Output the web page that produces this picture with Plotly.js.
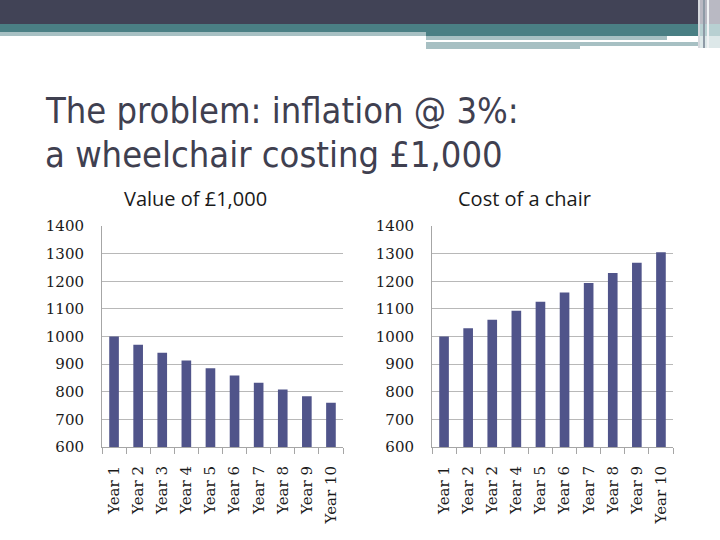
<!DOCTYPE html>
<html>
<head>
<meta charset="utf-8">
<script src="https://cdn.plot.ly/plotly-3.0.1.min.js"></script>
<style>html,body{margin:0;padding:0;background:#fff;}#chart{width:720px;height:540px;}</style>
</head>
<body>
<div id="chart"></div>
<script>
// ---- Data ----
const valueLabels = ["Year 1","Year 2","Year 3","Year 4","Year 5","Year 6","Year 7","Year 8","Year 9","Year 10"];
const valueOf1000 = [1000, 970, 941, 913, 885, 859, 833, 808, 784, 760];
const costLabels = ["Year 1","Year 2","Year 2","Year 4","Year 5","Year 6","Year 7","Year 8","Year 9","Year 10"];
const costOfChair = [1000, 1030, 1061, 1093, 1126, 1159, 1194, 1230, 1267, 1305];
const yTicks = [600, 700, 800, 900, 1000, 1100, 1200, 1300, 1400];

const barColor = "#50548a";
const idx = a => a.map((_, i) => i);

const traces = [
  {type: "bar", x: idx(valueOf1000), y: valueOf1000, xaxis: "x", yaxis: "y",
   marker: {color: barColor}, hoverinfo: "y", showlegend: false},
  {type: "bar", x: idx(costOfChair), y: costOfChair, xaxis: "x2", yaxis: "y2",
   marker: {color: barColor}, hoverinfo: "y", showlegend: false}
];

function xAxis(labels, domain, anchor) {
  return {
    domain: domain, anchor: anchor, range: [-0.5, labels.length - 0.5],
    tickmode: "array", tickvals: idx(labels), ticktext: labels, tickangle: -90,
    ticks: "", ticklabelstandoff: 12,
    minor: {ticks: "outside", tick0: -0.5, dtick: 1, ticklen: 6, tickcolor: "#a6a6a6", tickwidth: 1, showgrid: false},
    tickfont: {family: "DejaVu Serif", size: 15, color: "#1a1a1a"},
    showline: true, linecolor: "#a6a6a6", linewidth: 1, showgrid: false, zeroline: false, fixedrange: true
  };
}
function yAxis(domain, anchor) {
  return {
    domain: domain, anchor: anchor, range: [600, 1400],
    tickmode: "array", tickvals: yTicks, ticks: "", ticklabelstandoff: 14,
    tickfont: {family: "DejaVu Serif", size: 15, color: "#1a1a1a"},
    showgrid: true, gridcolor: "#b8b8b8", gridwidth: 1,
    showline: true, linecolor: "#a6a6a6", linewidth: 1, zeroline: false, fixedrange: true
  };
}

const W = 720, H = 540;
const px = v => v / W, py = v => 1 - v / H;
function rect(x0, y0, x1, y1, color) {
  return {type: "rect", xref: "paper", yref: "paper", x0: px(x0), x1: px(x1), y0: py(y1), y1: py(y0),
          fillcolor: color, line: {width: 0}, layer: "below"};
}

const titleFont = {family: "DejaVu Sans Condensed, DejaVu Sans, sans-serif", size: 36, color: "#3f4050"};
const yDom = [py(447), py(226)];
const layout = {
  width: W, height: H,
  margin: {l: 0, r: 0, t: 0, b: 0, pad: 0},
  paper_bgcolor: "#ffffff", plot_bgcolor: "rgba(0,0,0,0)",
  bargap: 0.6,
  xaxis: xAxis(valueLabels, [px(102), px(343)], "y"),
  yaxis: yAxis(yDom, "x"),
  xaxis2: xAxis(costLabels, [px(432), px(673)], "y2"),
  yaxis2: yAxis(yDom, "x2"),
  shapes: [
    rect(0, 0, 720, 24, "#414356"),
    rect(0, 24, 720, 32, "#4a7f84"),
    rect(426, 32, 698, 36, "#4a7f84"),
    rect(0, 32, 426, 36, "#a7c0c3"),
    rect(426, 36, 667, 40, "#a7c0c3"),
    rect(426, 42, 707, 46, "#a7c0c3"),
    rect(426, 46, 580, 49, "#a7c0c3"),
    rect(698, 0, 720, 24, "#b9b9c3"),
    rect(698, 24, 720, 36, "#b8d0d2"),
    rect(698, 36, 720, 48, "#dde8e9"),
    rect(698, 0, 700, 48, "#d6d9de"),
    rect(703, 0, 705, 48, "#8e9aa6"),
    rect(707, 0, 709, 48, "#f0f2f4")
  ],
  annotations: [
    {text: "The problem: inflation @ 3%:", xref: "paper", yref: "paper", x: px(43), y: py(111),
     xanchor: "left", yanchor: "middle", showarrow: false, font: titleFont},
    {text: "a wheelchair costing £1,000", xref: "paper", yref: "paper", x: px(43), y: py(155),
     xanchor: "left", yanchor: "middle", showarrow: false, font: titleFont},
    {text: "Value of £1,000", xref: "paper", yref: "paper", x: px(195), y: py(198),
     xanchor: "center", yanchor: "middle", showarrow: false,
     font: {family: "Open Sans", size: 20, color: "#1a1a1a"}},
    {text: "Cost of a chair", xref: "paper", yref: "paper", x: px(524), y: py(198),
     xanchor: "center", yanchor: "middle", showarrow: false,
     font: {family: "Open Sans", size: 20, color: "#1a1a1a"}}
  ]
};

Plotly.newPlot("chart", traces, layout, {displayModeBar: false, staticPlot: true});
</script>
</body>
</html>
